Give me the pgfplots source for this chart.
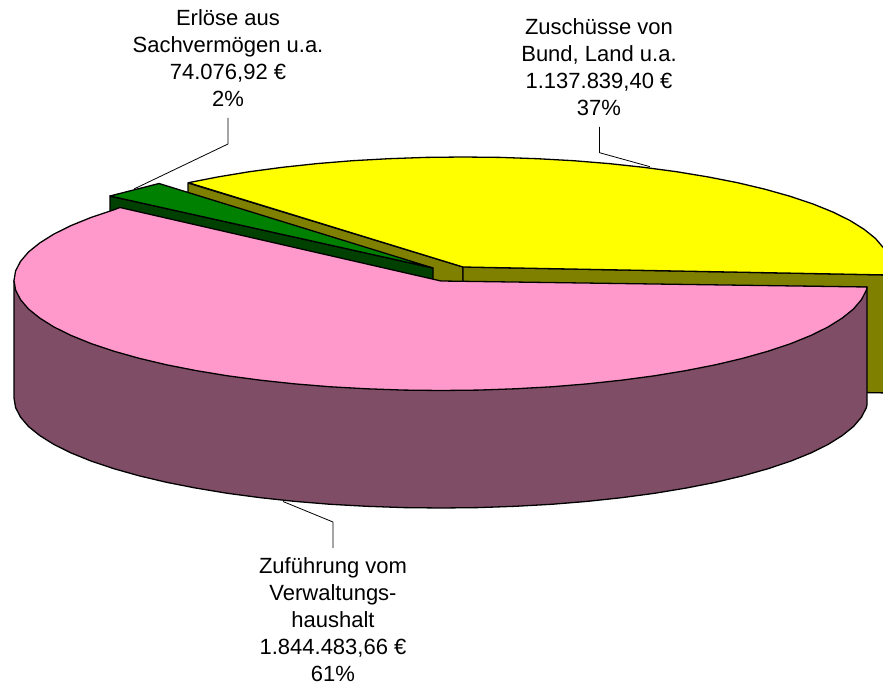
\documentclass[border=0pt]{standalone}
\usepackage{fontspec}
\setmainfont{Liberation Sans}
\usepackage{pgfplots}
\pgfplotsset{compat=1.18}
\definecolor{pYellow}{HTML}{FFFF00}
\definecolor{pOlive}{HTML}{808000}
\definecolor{pGreen}{HTML}{008000}
\definecolor{pDGreen}{HTML}{004000}
\definecolor{pPink}{HTML}{FF99CC}
\definecolor{pWall}{HTML}{804D66}
\tikzset{lbl/.style={align=center, font=\fontsize{22}{27}\selectfont, inner sep=0pt, text=black}}
\begin{document}
\begin{tikzpicture}[x=1pt,y=1pt]
\path[use as bounding box] (0,0) rectangle (883,687);
\begin{axis}[
  at={(0,0)}, anchor=south west,
  scale only axis, width=883pt, height=687pt,
  xmin=0, xmax=883, ymin=0, ymax=687, y dir=reverse,
  axis lines=none, ticks=none,
  every axis plot/.append style={line width=1.3pt, line join=round},
]
% Zuschüsse: cut faces
\addplot[draw=black, fill=pOlive] coordinates {(188,183)(463,267)(463,385)(188,301)} -- cycle;
\addplot[draw=black, fill=pOlive] coordinates {(463,267)(889,275)(889,393)(463,385)} -- cycle;
% Zuschüsse: top
\addplot[draw=black, fill=pYellow] coordinates {
(188.5,182.7)(218.1,176.9)(249.5,171.7)(282.5,167.3)(317,163.6)(352.5,160.7)(388.9,158.7)(425.8,157.4)(463,157)
(500.2,157.4)(537.1,158.7)(573.5,160.7)(609,163.6)(643.5,167.3)(676.5,171.7)(707.9,176.9)(737.5,182.7)(764.9,189.2)
(790.1,196.3)(812.8,203.9)(832.8,212)(850,220.5)(864.2,229.4)(875.5,238.5)(883.5,247.9)(888.4,257.4)(890,267)(889,275)
(463,267)} -- cycle;
% Erlöse
\addplot[draw=black, fill=pDGreen] coordinates {(110,196)(433,268)(433,386)(110,314)} -- cycle;
\addplot[draw=black, fill=pGreen] coordinates {(110,196)(159,183.5)(433,268)} -- cycle;
% Zuführung: outer wall
\addplot[draw=black, fill=pWall] coordinates {
(867,287)(867,404.5)(866.4,407.6)(861.5,417.1)(853.5,426.5)(842.2,435.6)(828,444.5)(810.8,453)(790.8,461.1)(768.1,468.7)
(742.9,475.8)(715.5,482.3)(685.9,488.1)(654.5,493.3)(621.5,497.7)(587,501.4)(551.5,504.3)(515.1,506.3)(478.2,507.6)(441,508)
(403.8,507.6)(366.9,506.3)(330.5,504.3)(295,501.4)(260.5,497.7)(227.5,493.3)(196.1,488.1)(166.5,482.3)(139.1,475.8)
(113.9,468.7)(91.2,461.1)(71.2,453)(54,444.5)(39.8,435.6)(28.5,426.5)(20.5,417.1)(15.6,407.6)(14,398)(14,280.5)} -- cycle;
% Zuführung: top
\addplot[draw=black, fill=pPink] coordinates {
(441,281)(867,287)(866.4,290.1)(861.5,299.6)(853.5,309)(842.2,318.1)(828,327)(810.8,335.5)(790.8,343.6)(768.1,351.2)
(742.9,358.3)(715.5,364.8)(685.9,370.6)(654.5,375.8)(621.5,380.2)(587,383.9)(551.5,386.8)(515.1,388.8)(478.2,390.1)(441,390.5)
(403.8,390.1)(366.9,388.8)(330.5,386.8)(295,383.9)(260.5,380.2)(227.5,375.8)(196.1,370.6)(166.5,364.8)(139.1,358.3)
(113.9,351.2)(91.2,343.6)(71.2,335.5)(54,327)(39.8,318.1)(28.5,309)(20.5,299.6)(15.6,290.1)(14,280.5)
(15.6,270.9)(20.5,261.4)(28.5,252)(39.8,242.9)(54,234)(71.2,225.5)(91.2,217.4)(113.9,209.8)(120,207.5)} -- cycle;
% leader lines
\addplot[draw=black, line width=0.8pt] coordinates {(134,189)(228,144)(228,118)};
\addplot[draw=black, line width=0.8pt] coordinates {(650,166.7)(599.5,152.7)(599.5,127)};
\addplot[draw=black, line width=0.8pt] coordinates {(283,501.5)(333,522)(333,548)};
% labels
\node[lbl] at (axis cs:228,58.5) {Erlöse aus\\Sachvermögen u.a.\\74.076,92 €\\2\%};
\node[lbl] at (axis cs:599,67) {Zuschüsse von\\Bund, Land u.a.\\1.137.839,40 €\\37\%};
\node[lbl] at (axis cs:333,620) {Zuführung vom\\Verwaltungs-\\haushalt\\1.844.483,66 €\\61\%};
\end{axis}
\end{tikzpicture}
\end{document}
